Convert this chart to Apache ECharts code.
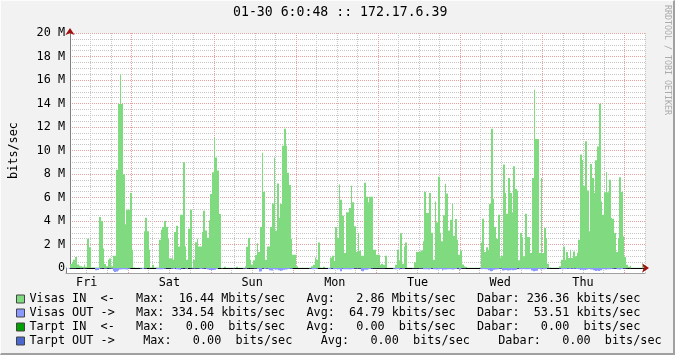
<!DOCTYPE html>
<html><head><meta charset="utf-8">
<script src="https://cdn.jsdelivr.net/npm/echarts@6/dist/echarts.min.js"></script>
<style>
html,body{margin:0;padding:0;background:#f2f2f2;}
#wrap{position:relative;width:675px;height:355px;overflow:hidden;}
#chart{position:absolute;left:0;top:0;width:675px;height:355px;}
#wrap:after{content:'';position:absolute;left:0;top:0;width:675px;height:355px;box-sizing:border-box;border-right:2px solid #a0a0a0;border-bottom:2px solid #a0a0a0;border-top:1px solid #fcfcfc;border-left:1px solid #fcfcfc;pointer-events:none;}
</style></head>
<body><div id="wrap"><div id="chart"></div></div>
<script>
// ---- data ----
const chartTitle = '01-30 6:0:48 :: 172.17.6.39';
const dayLabels = ['Fri', 'Sat', 'Sun', 'Mon', 'Tue', 'Wed', 'Thu'];
const startHour = 6;     // hours since Fri 00:00
const stepHours = 0.5;   // 30 min consolidation
const yTickMax = 20;     // Mbits/sec
const yTickStep = 2;

// Visas IN, Mbits/sec, one value per 30 min
const visasIn = [
0.34,0.5,0.7,0.94,0.3,0.2,0.15,0.1,0.3,0.1,
2.5,1.76,0.05,0.05,0.05,0.05,0.05,4.34,4.0,1.65,
0.34,0.15,0.7,0.8,0.15,1.05,1.05,8.37,13.96,16.44,
13.96,7.97,3.72,4.96,4.96,6.38,1.56,0.05,0.03,0.03,
0.03,0.03,0.03,3.12,4.28,3.12,1.56,0.05,0.28,0.05,
0.05,0.05,2.4,3.26,3.5,4.0,
3.5,2.5,0.82,0.82,0.7,3.06,3.6,1.84,4.54,4.54,
9.0,1.84,0.7,3.35,4.96,0.05,0.7,2.2,2.5,1.84,
1.84,3.06,4.88,3.2,2.58,4.06,6.3,8.14,11.06,9.4,
8.3,4.6,0.03,0.03,0.1,0.03,0.03,0.03,0.03,0.03,
0.03,0.1,0.03,0.03,0.03,0.03,0.15,1.8,2.55,0.7,
0.3,0.65,1.1,2.1,1.36,3.5,9.8,
6.5,0.7,1.84,1.84,3.5,5.5,9.4,3.2,7.2,4.26,
5.45,10.4,11.86,10.4,8.1,7.06,2.5,1.13,1.13,0.15,
0.02,0.02,0.02,0.02,0.02,0.02,0.02,0.02,0.15,0.28,
0.9,0.7,2.18,0.05,0.02,0.1,0.02,0.02,0.02,0.9,
1.05,0.6,3.5,2.55,7.1,5.8,4.45,1.28,4.74,4.74,
5.1,7.0,5.6,3.55,1.36,3.0,
1.47,1.05,1.05,7.26,6.07,5.6,6.07,6.07,1.56,1.56,
1.13,1.13,0.28,0.37,0.28,1.05,0.02,0.02,0.02,0.02,
0.02,0.28,1.56,0.65,2.95,0.37,1.84,2.18,0.02,0.02,
0.02,0.02,0.5,1.36,1.36,1.4,1.5,2.27,6.5,4.68,
4.68,6.38,3.0,0.7,5.65,3.89,7.77,3.0,2.27,4.5,
7.18,6.33,3.2,4.1,5.45,2.75,4.17,2.41,1.13,
1.5,0.3,0.15,0.1,0.02,0.02,0.02,0.02,0.02,0.02,
0.02,0.02,2.18,4.2,1.36,1.76,1.56,5.45,11.86,5.9,
3.5,2.5,4.54,0.9,1.05,8.8,6.38,4.62,7.66,6.38,
4.74,8.65,6.72,6.58,0.65,2.98,2.64,1.0,4.62,2.64,
2.64,1.28,7.66,15.18,10.98,10.98,1.28,7.66,1.28,3.4,
2.55,0.37,0.05,0.02,0.02,
0.02,0.02,0.02,0.15,0.7,1.84,0.7,1.36,0.85,1.56,
0.85,1.4,1.0,1.3,2.4,9.65,9.2,7.0,10.78,6.6,
3.12,8.85,7.66,6.38,9.16,10.35,13.98,5.67,4.54,6.44,
8.17,6.44,7.52,4.26,4.2,2.98,1.36,2.55,7.72,6.47,
2.7,0.94,0.28,0.1,0.2,0.02,0.02,0.02,0.02,0.02,
0.02,0.28,0.02
];

// Visas OUT, Mbits/sec (drawn mirrored below zero)
const visasOut = [
0.02,0.02,0.03,0.03,0.02,0.02,0.01,0.01,0.02,0.01,0.04,0.03,0.01,0.01,0.01,0.01,0.01,
0.2,0.18,0.08,
0.05,0.03,0.06,0.06,0.03,0.05,0.06,
0.25,0.33,0.3,
0.22,
0.12,0.1,0.1,0.1,0.12,0.06,
0.02,0.01,0.01,0.01,0.01,0.01,
0.05,0.08,0.05,0.04,
0.01,0.02,0.01,0.01,0.01,
0.06,0.1,0.1,0.1,
0.08,0.06,0.03,0.03,0.03,0.07,0.08,0.05,0.1,
0.12,0.17,
0.05,0.03,0.07,0.1,0.01,
0.03,0.05,0.06,0.05,0.05,0.06,0.08,0.06,0.05,0.08,
0.12,0.18,0.2,0.18,0.15,0.08,
0.01,0.01,0.02,0.01,0.01,0.01,0.01,0.01,0.01,0.02,0.01,0.01,0.01,0.01,
0.01,0.05,0.06,0.02,0.01,0.02,0.03,0.05,0.04,0.08,
0.3,
0.28,
0.05,0.08,0.06,0.1,
0.2,0.22,
0.1,0.15,0.12,
0.2,0.25,0.22,
0.15,0.12,0.1,0.08,0.06,0.05,
0.01,0.01,0.01,0.01,0.01,0.01,0.01,0.01,0.01,
0.04,0.06,0.1,0.08,0.06,
0.01,0.01,0.01,0.01,0.01,0.01,
0.08,0.1,0.04,
0.1,0.08,0.12,0.1,
0.28,
0.06,0.1,0.1,0.1,0.12,0.1,0.08,0.05,0.05,
0.05,0.04,
0.25,0.28,
0.15,0.14,
0.1,0.08,0.04,0.03,0.03,0.03,0.02,0.02,0.02,0.03,
0.01,0.01,0.01,0.01,0.01,
0.06,0.1,0.08,0.15,0.05,0.06,0.07,
0.01,0.01,0.01,0.01,
0.02,0.03,0.03,0.03,0.04,0.05,
0.1,0.1,0.1,0.12,0.08,0.04,
0.1,0.1,0.12,0.1,0.08,
0.22,
0.12,0.12,0.1,0.1,0.1,0.12,0.1,0.08,0.05,
0.14,0.04,0.02,0.02,
0.01,0.01,0.01,0.01,0.01,0.01,0.01,0.01,
0.06,0.1,0.08,0.1,0.1,
0.2,0.28,0.25,0.15,0.12,
0.1,0.06,0.06,
0.22,0.2,0.18,0.22,0.2,0.15,0.2,0.18,
0.15,0.05,
0.1,0.1,0.08,0.1,0.1,0.1,0.08,
0.22,0.28,0.25,0.24,
0.08,0.12,0.06,0.1,0.08,
0.03,0.02,0.01,0.01,
0.01,0.01,0.01,
0.04,0.08,0.1,0.08,0.08,0.06,0.08,0.07,0.08,0.06,0.08,0.1,
0.17,0.15,0.15,0.17,
0.12,0.08,0.12,0.12,
0.2,0.25,0.22,0.25,0.2,
0.1,0.1,0.12,0.1,0.1,0.08,0.06,0.05,0.06,0.1,0.12,0.08,
0.05,0.04,0.02,0.01,0.02,
0.01,0.01,0.01,0.01,0.01,0.01,0.03,0.01
];

// Tarpt IN / OUT are flat zero over the whole week (start, end)
const tarptIn = [0, 0];
const tarptOut = [0, 0];

// legend statistics
const legendNames = ['Visas IN', 'Visas OUT', 'Tarpt IN', 'Tarpt OUT'];
const legendArrows = ['<-', '->', '<-', '->'];
const statMax = [16.44, 334.54, 0, 0];
const statMaxUnit = ['M', 'k', ' ', ' '];
const statAvg = [2.86, 64.79, 0, 0];
const statAvgUnit = ['M', 'k', ' ', ' '];
const statNow = [236.36, 53.51, 0, 0];
const statNowUnit = ['k', 'k', ' ', ' '];

// ---- build ----
const mono = "'DejaVu Sans Mono','Liberation Mono',monospace";
const inColor = '#80db80', outColor = '#8a98ff';
const legendColors = [inColor, outColor, '#00a000', '#4a68d0'];
const minorGrey = '#c6c6c6', majorRed = '#e6a0a0';
const n = visasIn.length;
const endHour = startHour + n * stepHours;

// each value covers its own 30-minute bin; stored at bin middle
const inData = visasIn.map((v, i) => [startHour + (i + 0.5) * stepHours, v]);
const outData = visasOut.map((v, i) => [startHour + (i + 0.5) * stepHours, -v]);
const tInData = [[startHour, tarptIn[0]], [endHour, tarptIn[1]]];
const tOutData = [[startHour, -tarptOut[0]], [endHour, -tarptOut[1]]];

const fmt = v => v.toFixed(2).padStart(7, ' ');
const gapCols = [3, 3, 3, 4];
const legendLines = legendNames.map((nm, i) => {
  const g = ' '.repeat(gapCols[i]);
  return nm.padEnd(9, ' ') + ' ' + legendArrows[i] + g +
    'Max:' + fmt(statMax[i]) + ' ' + statMaxUnit[i] + 'bits/sec' + g +
    'Avg:' + fmt(statAvg[i]) + ' ' + statAvgUnit[i] + 'bits/sec' + g +
    'Dabar:' + fmt(statNow[i]) + ' ' + statNowUnit[i] + 'bits/sec';
});

const vSplit = {show: true, lineStyle: {color: [minorGrey, minorGrey, minorGrey, majorRed], type: [1, 1], width: 1}};

// a step area: one pixel-snapped column per 30-minute bin, placed through the axes' scales
const binRender = color => (params, api) => {
  const x = api.value(0), v = api.value(1);
  const a = api.coord([x - stepHours / 2, v]);
  const b = api.coord([x + stepHours / 2, 0]);
  const left = Math.round(a[0]), right = Math.round(b[0]);
  const top = Math.min(a[1], b[1]), h = Math.abs(a[1] - b[1]);
  return {type: 'rect', shape: {x: left, y: top, width: right - left, height: h},
    style: {fill: color}};
};
const areaSeries = (name, xi, yi, data, color) => ({
  name, type: 'custom', xAxisIndex: xi, yAxisIndex: yi, data, color,
  encode: {x: 0, y: 1}, renderItem: binRender(color), clip: true, silent: true
});
const flatSeries = (name, xi, yi, data, color) => ({
  name, type: 'line', xAxisIndex: xi, yAxisIndex: yi, data, symbol: 'none',
  color, lineStyle: {width: 0, opacity: 0}, silent: true
});

const chart = echarts.init(document.getElementById('chart'), null, {renderer: 'canvas'});
chart.setOption({
  backgroundColor: '#f2f2f2',
  animation: false,
  title: {text: chartTitle, left: 233, top: 6, padding: 0,
    textStyle: {fontFamily: mono, fontSize: 13.2, fontWeight: 'normal', color: '#000'}},
  grid: [
    {left: 66, top: 33, width: 579, height: 235, show: true, backgroundColor: '#fff', borderWidth: 0},
    {left: 66, top: 268, width: 579, height: 5, show: true, backgroundColor: '#fff', borderWidth: 0}
  ],
  xAxis: [
    {gridIndex: 0, type: 'value', min: startHour, max: endHour, interval: 6, position: 'bottom',
      axisLine: {show: true, onZero: false, lineStyle: {color: '#000', width: 1}},
      axisTick: {show: false}, axisLabel: {show: false}, splitLine: vSplit},
    {gridIndex: 1, type: 'value', min: startHour, max: endHour, interval: 6, position: 'bottom',
      axisLine: {show: true, onZero: false, lineStyle: {color: '#a0a0a0', width: 1}},
      axisTick: {show: false}, splitLine: vSplit,
      axisLabel: {show: true, margin: 4, fontFamily: mono, fontSize: 11.8, color: '#000',
        formatter: v => ((v - 12) % 24 === 0 ? dayLabels[(v - 12) / 24] || '' : '')}},
    {gridIndex: 0, type: 'value', min: startHour, max: endHour, position: 'bottom',
      axisLine: {show: true, onZero: false, symbol: ['none', 'arrow'], symbolSize: [7, 7], symbolOffset: [0, 4],
        lineStyle: {color: '#a01010', opacity: 0}},
      axisTick: {show: false}, axisLabel: {show: false}, splitLine: {show: false}}
  ],
  yAxis: [
    {gridIndex: 0, type: 'value', min: 0, max: yTickMax, interval: yTickStep, position: 'left',
      axisLine: {show: true, onZero: false, lineStyle: {color: '#808080'}},
      axisTick: {show: false},
      axisLabel: {margin: 5, fontFamily: mono, fontSize: 11.8, color: '#000',
        formatter: v => (v === 0 ? '0' : v + ' M')},
      splitLine: {show: true, lineStyle: {color: majorRed, type: [1, 1]}},
      minorTick: {show: false, splitNumber: 4},
      minorSplitLine: {show: true, lineStyle: {color: minorGrey, type: [1, 1]}},
      name: 'bits/sec', nameLocation: 'middle', nameRotate: 90, nameGap: 50,
      nameTextStyle: {fontFamily: mono, fontSize: 11.8, color: '#000'}},
    {gridIndex: 1, type: 'value', min: -0.425, max: 0, position: 'left',
      axisLine: {show: true, onZero: false, lineStyle: {color: '#808080'}},
      axisTick: {show: false}, axisLabel: {show: false}, splitLine: {show: false}},
    {gridIndex: 0, type: 'value', min: 0, max: yTickMax, position: 'left',
      axisLine: {show: true, onZero: false, symbol: ['none', 'arrow'], symbolSize: [7, 7], symbolOffset: [0, 5],
        lineStyle: {color: '#a01010', opacity: 0}},
      axisTick: {show: false}, axisLabel: {show: false}, splitLine: {show: false}}
  ],
  legend: {
    orient: 'vertical', left: 16, top: 292, padding: 0, itemWidth: 8, itemHeight: 8, itemGap: 0,
    icon: 'rect', selectedMode: false,
    data: legendNames.map((nm, i) => ({name: nm, itemStyle: {color: legendColors[i], borderColor: '#444', borderWidth: 1}})),
    formatter: nm => legendLines[legendNames.indexOf(nm)],
    textStyle: {fontFamily: mono, fontSize: 11.8, color: '#000', lineHeight: 14}
  },
  graphic: [
    {type: 'text', x: 667.5, y: 5, rotation: -Math.PI / 2, silent: true,
      style: {text: 'RRDTOOL / TOBI OETIKER', fill: '#ababab', font: "8.3px 'DejaVu Sans Mono', monospace",
        align: 'left', verticalAlign: 'middle'}}
  ],
  series: [
    areaSeries('Visas IN', 0, 0, inData, inColor),
    areaSeries('Visas OUT', 1, 1, outData, outColor),
    flatSeries('Tarpt IN', 0, 0, tInData, legendColors[2]),
    flatSeries('Tarpt OUT', 1, 1, tOutData, legendColors[3])
  ]
});
</script>
</body></html>
